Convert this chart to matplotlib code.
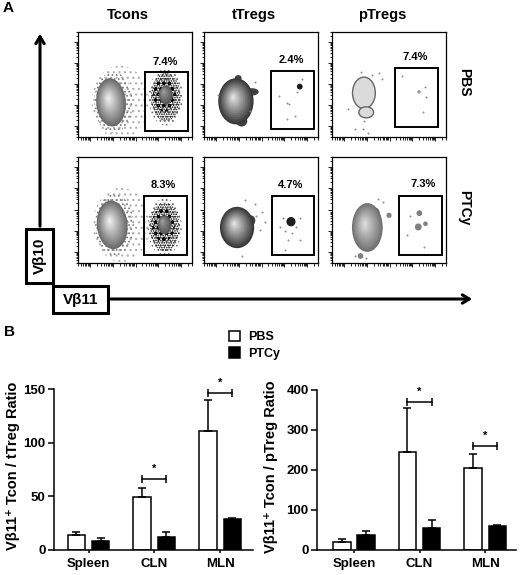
import matplotlib
matplotlib.use('Agg')
import numpy as np
import matplotlib.pyplot as plt
from matplotlib.patches import Ellipse, Rectangle
from matplotlib.ticker import LogLocator

plt.rcParams['font.family'] = ['Liberation Sans', 'DejaVu Sans']
plt.rcParams['font.weight'] = 'bold'
plt.rcParams['hatch.linewidth'] = 0.8

# ---- panel A: flow plots ----
row_labels = ['PBS', 'PTCy']
col_labels = ['Tcons', 'tTregs', 'pTregs']
gate_pct = [[7.4, 2.4, 7.4], [8.3, 4.7, 7.3]]

# gates in axes fraction (x0, x1, y0, y1)
gates = [[(0.588, 0.965, 0.057, 0.619), (0.588, 0.965, 0.076, 0.629), (0.553, 0.930, 0.095, 0.657)],
         [(0.579, 0.956, 0.075, 0.632), (0.596, 0.965, 0.075, 0.632), (0.588, 0.965, 0.075, 0.632)]]
pct_pos = [[(0.763, 0.714), (0.763, 0.733), (0.728, 0.762)],
           [(0.746, 0.736), (0.763, 0.736), (0.798, 0.745)]]

# main populations (cx, cy, w, h, angle, edge grey, core grey)
main_pops = {(0, 0): (0.29, 0.33, 0.26, 0.46, 4, 0.42, 0.93),
             (0, 1): (0.28, 0.34, 0.31, 0.44, 0, 0.22, 0.88),
             (1, 0): (0.30, 0.36, 0.27, 0.46, 4, 0.42, 0.93),
             (1, 1): (0.29, 0.335, 0.30, 0.39, 0, 0.22, 0.88),
             (1, 2): (0.31, 0.335, 0.27, 0.46, 0, 0.45, 0.86)}
# irregular edges of the main populations (row, col, cx, cy, w, h, grey)
lobes = [(0, 1, 0.42, 0.43, 0.12, 0.07, 0.25),
         (0, 1, 0.33, 0.15, 0.10, 0.10, 0.25),
         (0, 1, 0.30, 0.56, 0.06, 0.06, 0.25),
         (1, 1, 0.41, 0.40, 0.08, 0.10, 0.25),
         (1, 2, 0.24, 0.30, 0.08, 0.20, 0.45),
         (1, 2, 0.39, 0.43, 0.07, 0.18, 0.45)]
# outlined contour populations, pTregs PBS
contour_pops = [(0.28, 0.42, 0.20, 0.30), (0.30, 0.235, 0.13, 0.105)]
# small clusters (row, col, cx, cy, size, grey)
clusters = [(0, 1, 0.84, 0.48, 0.05, 0.1),
            (0, 2, 0.763, 0.43, 0.03, 0.6),
            (1, 1, 0.763, 0.39, 0.08, 0.12),
            (1, 2, 0.50, 0.45, 0.045, 0.5),
            (1, 2, 0.25, 0.066, 0.05, 0.5),
            (1, 2, 0.766, 0.47, 0.05, 0.5),
            (1, 2, 0.757, 0.34, 0.06, 0.5),
            (1, 2, 0.82, 0.37, 0.04, 0.5)]
# sparse single events
events_x = {(0, 1): [0.66, 0.725, 0.745, 0.80, 0.725, 0.857, 0.82, 0.45, 0.40, 0.12],
            (0, 2): [0.816, 0.825, 0.80, 0.61, 0.25, 0.35, 0.41, 0.435, 0.14, 0.28, 0.20, 0.27, 0.32],
            (1, 1): [0.696, 0.71, 0.77, 0.81, 0.84, 0.74, 0.71, 0.84, 0.67, 0.46, 0.51, 0.535, 0.45, 0.36, 0.49, 0.33],
            (1, 2): [0.655, 0.81, 0.68, 0.40, 0.45, 0.20, 0.30]}
events_y = {(0, 1): [0.39, 0.32, 0.31, 0.20, 0.17, 0.55, 0.43, 0.52, 0.25, 0.40],
            (0, 2): [0.48, 0.38, 0.235, 0.58, 0.616, 0.59, 0.61, 0.55, 0.27, 0.15, 0.08, 0.08, 0.035],
            (1, 1): [0.42, 0.30, 0.28, 0.34, 0.22, 0.22, 0.12, 0.42, 0.34, 0.44, 0.48, 0.39, 0.56, 0.59, 0.31, 0.066],
            (1, 2): [0.26, 0.154, 0.44, 0.60, 0.58, 0.07, 0.05]}

# ---- panel B: ratios ----
tissues = ['Spleen', 'CLN', 'MLN']
groups = ['PBS', 'PTCy']
ttreg_pbs = [14, 49, 110.5]
ttreg_pbs_sem = [3, 8.5, 29.5]
ttreg_ptcy = [8.5, 12.5, 28.5]
ttreg_ptcy_sem = [2.5, 4.5, 1.5]
ttreg_sig = [None, 66, 146]
ptreg_pbs = [19, 246, 205]
ptreg_pbs_sem = [9, 110, 35]
ptreg_ptcy = [37, 54, 61]
ptreg_ptcy_sem = [11, 21, 1]
ptreg_sig = [None, 369, 259]

W, H = 520, 575
fig = plt.figure(figsize=(W / 100, H / 100), dpi=100)


def px_axes(x0, y0, x1, y1):
    return fig.add_axes([x0 / W, 1 - y1 / H, (x1 - x0) / W, (y1 - y0) / H])


def density(ax, cx, cy, w, h, angle, edge, core, n=12):
    for i in range(n):
        f = 1 - i / n
        g = edge + (core - edge) * i / (n - 1)
        ax.add_patch(Ellipse((cx - 0.025 * (1 - f), cy + 0.04 * (1 - f)), w * f, h * f, angle=angle,
                             facecolor=str(g), edgecolor='none', transform=ax.transAxes))


def speckle(ax, cx, cy, w, h, color, hatch):
    ax.add_patch(Ellipse((cx, cy), w, h, facecolor='none', edgecolor=color, hatch=hatch,
                         linewidth=0, transform=ax.transAxes))


# overlay for labels/arrows
ov = fig.add_axes([0, 0, 1, 1])
ov.set_xlim(0, W)
ov.set_ylim(H, 0)
ov.axis('off')

col_x = [(78, 192), (204, 318), (332, 446)]
row_y = [(32, 137), (157, 263)]

for r in range(2):
    for c in range(3):
        ax = px_axes(col_x[c][0], row_y[r][0], col_x[c][1], row_y[r][1])
        ax.set_xscale('log')
        ax.set_yscale('log')
        ax.set_xlim(3, 3e5)
        ax.set_ylim(3, 3e5)
        for axis in (ax.xaxis, ax.yaxis):
            axis.set_major_locator(LogLocator(base=10, numticks=20))
            axis.set_minor_locator(LogLocator(base=10, subs=np.arange(2, 10), numticks=20))
        ax.tick_params(which='both', direction='out', labelbottom=False, labelleft=False, width=0.6)
        ax.tick_params(which='major', length=3.2)
        ax.tick_params(which='minor', length=1.8)
        for s in ax.spines.values():
            s.set_linewidth(0.9)

        if c == 0:
            cx, cy = main_pops[(r, c)][:2]
            speckle(ax, cx + 0.08, cy, 0.50, 0.70, '0.68', '...')
            speckle(ax, cx + 0.02, cy, 0.34, 0.58, '0.5', '....')
            gx = 0.77 if r == 0 else 0.76
            gy = 0.38 if r == 0 else 0.34
            speckle(ax, gx, gy, 0.30, 0.54, '0.4', '....')
            speckle(ax, gx, gy, 0.26, 0.46, 'black', '.......')
            speckle(ax, gx - 0.01, gy + 0.02, 0.20, 0.32, 'black', 'ooo')
            density(ax, gx, gy + 0.02, 0.12, 0.18, 0, 0.35, 0.6, n=5)
        for (rr, cc, cx, cy, w, h, g) in lobes:
            if (rr, cc) == (r, c):
                ax.add_patch(Ellipse((cx, cy), w, h, facecolor=str(g), edgecolor='none',
                                     transform=ax.transAxes))
        if (r, c) in main_pops:
            density(ax, *main_pops[(r, c)])
        if (r, c) == (0, 2):
            for (cx, cy, w, h) in contour_pops:
                ax.add_patch(Ellipse((cx, cy), w, h, facecolor='0.86', edgecolor='0.4',
                                     linewidth=1.0, transform=ax.transAxes))
        for (rr, cc, cx, cy, sz, g) in clusters:
            if (rr, cc) == (r, c):
                ax.add_patch(Ellipse((cx, cy), sz, sz * 1.1, facecolor=str(g), edgecolor='none',
                                     transform=ax.transAxes))
        if (r, c) in events_x:
            ax.scatter(events_x[(r, c)], events_y[(r, c)], s=2, color='0.55', transform=ax.transAxes,
                       linewidths=0)

        x0, x1, y0, y1 = gates[r][c]
        ax.add_patch(Rectangle((x0, y0), x1 - x0, y1 - y0, facecolor='none', edgecolor='black',
                               linewidth=1.4, transform=ax.transAxes))
        ax.text(*pct_pos[r][c], f'{gate_pct[r][c]}%', transform=ax.transAxes, ha='center',
                va='center', fontsize=8)

for c, name in enumerate(col_labels):
    ov.text(sum(col_x[c]) / 2 - 7, 15, name, ha='center', va='center', fontsize=10.5)
for r, name in enumerate(row_labels):
    ov.text(464, sum(row_y[r]) / 2 - 2, name, ha='center', va='center', fontsize=10, rotation=-90)
ov.text(3, 8, 'A', ha='left', va='center', fontsize=11)
ov.text(4, 332, 'B', ha='left', va='center', fontsize=11)

# axis arrows and boxes
ov.annotate('', xy=(40, 31), xytext=(40, 229),
            arrowprops=dict(arrowstyle='->,head_length=0.5,head_width=0.3', lw=2.2, color='black'))
ov.annotate('', xy=(475, 299), xytext=(108, 299),
            arrowprops=dict(arrowstyle='->,head_length=0.5,head_width=0.3', lw=2.2, color='black'))
ov.add_patch(Rectangle((26, 229), 27, 54, facecolor='white', edgecolor='black', linewidth=2.2))
ov.text(39.5, 256, 'Vβ10', ha='center', va='center', rotation=90, fontsize=11)
ov.add_patch(Rectangle((53, 286), 55, 27, facecolor='white', edgecolor='black', linewidth=2.2))
ov.text(80.5, 300, 'Vβ11', ha='center', va='center', fontsize=11)


def bar_panel(ax, pbs, pbs_err, ptcy, ptcy_err, sig, ymax, step, ylabel, xlim):
    x = np.arange(len(tissues))
    ekw = dict(elinewidth=1.1, capthick=1.1)
    b1 = ax.bar(x - 0.185, pbs, 0.265, color='white', edgecolor='black', linewidth=1.1,
                yerr=[np.zeros(len(x)), pbs_err], capsize=3, error_kw=ekw)
    b2 = ax.bar(x + 0.185, ptcy, 0.265, color='black', edgecolor='black', linewidth=1.1,
                yerr=[np.zeros(len(x)), ptcy_err], capsize=3, error_kw=ekw)
    for i, y in enumerate(sig):
        if y is None:
            continue
        ax.plot([i - 0.185, i + 0.185], [y, y], color='black', lw=1.1, marker='|', ms=6, mew=1.1)
        ax.annotate('*', (i, y), xytext=(0, 7.5), textcoords='offset points', ha='center',
                    va='center', fontsize=8)
    ax.set_xlim(*xlim)
    ax.set_ylim(0, ymax)
    ax.set_yticks(range(0, ymax + 1, step))
    ax.set_xticks(x)
    ax.set_xticklabels(tissues)
    ax.spines['top'].set_visible(False)
    ax.spines['right'].set_visible(False)
    for s in ('left', 'bottom'):
        ax.spines[s].set_linewidth(1.1)
    ax.tick_params(axis='y', direction='out', length=4, width=1.1, labelsize=9.5, pad=2)
    ax.tick_params(axis='x', direction='out', length=2.5, width=1.1, labelsize=9.5, pad=3)
    ax.set_ylabel(ylabel, fontsize=10.5, fontweight='bold')
    return b1, b2


axL = px_axes(54, 389, 253, 550)
b1, b2 = bar_panel(axL, ttreg_pbs, ttreg_pbs_sem, ttreg_ptcy, ttreg_ptcy_sem, ttreg_sig,
                   150, 50, 'Vβ11⁺ Tcon / tTreg Ratio', (-0.525, 2.5))
axL.yaxis.set_label_coords(-0.172, 0.52)

axR = px_axes(317, 390, 516, 550)
bar_panel(axR, ptreg_pbs, ptreg_pbs_sem, ptreg_ptcy, ptreg_ptcy_sem, ptreg_sig,
          400, 100, 'Vβ11⁺ Tcon / pTreg Ratio', (-0.565, 2.47))
axR.yaxis.set_label_coords(-0.198, 0.52)

fig.legend(handles=[b1, b2], labels=groups, loc='upper left', bbox_to_anchor=(229 / W, 1 - 331 / H),
           frameon=False, fontsize=9, handlelength=0.9, handleheight=0.9, handletextpad=0.6,
           labelspacing=0.3, borderpad=0, borderaxespad=0)

fig.savefig('out.png', dpi=100)
